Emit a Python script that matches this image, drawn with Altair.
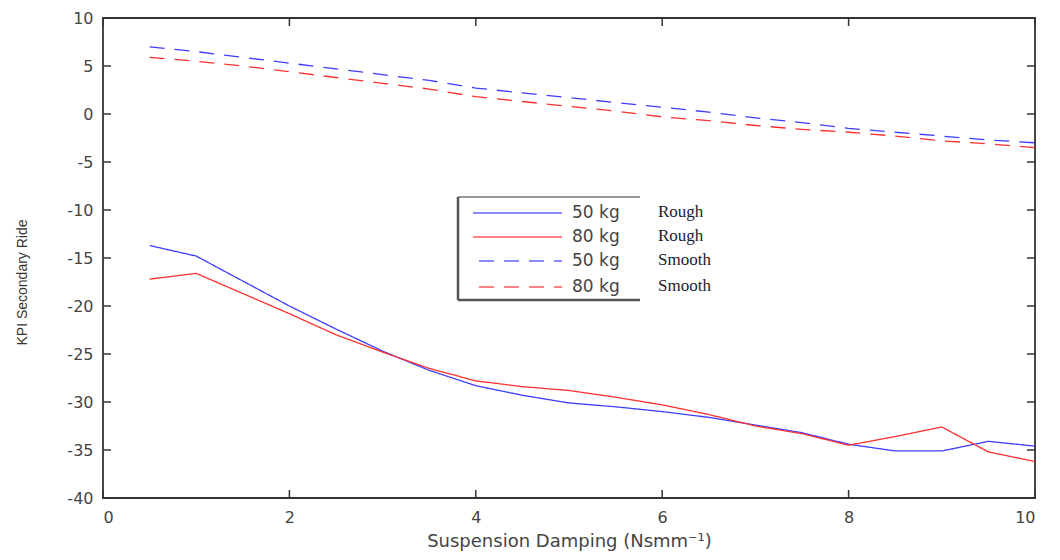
import altair as alt
import pandas as pd

# ---------------- data ----------------
x_vals = [0.5, 1.0, 1.5, 2.0, 2.5, 3.0, 3.5, 4.0, 4.5, 5.0,
          5.5, 6.0, 6.5, 7.0, 7.5, 8.0, 8.5, 9.0, 9.5, 10.0]
rough_50 = [-13.7, -14.8, -17.4, -20.0, -22.4, -24.7, -26.7, -28.3, -29.3, -30.1,
            -30.5, -31.0, -31.6, -32.4, -33.2, -34.4, -35.1, -35.1, -34.1, -34.6]
rough_80 = [-17.2, -16.6, -18.7, -20.8, -23.0, -24.8, -26.5, -27.8, -28.4, -28.8,
            -29.5, -30.3, -31.3, -32.5, -33.3, -34.5, -33.6, -32.6, -35.2, -36.2]
smooth_50 = [7.0, 6.5, 5.9, 5.3, 4.7, 4.1, 3.5, 2.7, 2.2, 1.7,
             1.2, 0.7, 0.2, -0.4, -0.9, -1.5, -1.9, -2.3, -2.7, -3.0]
smooth_80 = [5.9, 5.5, 5.0, 4.4, 3.8, 3.2, 2.6, 1.8, 1.3, 0.8,
             0.3, -0.3, -0.7, -1.2, -1.6, -1.9, -2.3, -2.8, -3.1, -3.5]

series_keys = ["50 kg Rough", "80 kg Rough", "50 kg Smooth", "80 kg Smooth"]
legend_mass = ["50 kg", "80 kg", "50 kg", "80 kg"]
legend_road = ["Rough", "Rough", "Smooth", "Smooth"]
series_colors = ["#3d3dff", "#ff3030", "#3d3dff", "#ff3030"]
series_dash = [[1, 0], [1, 0], [15, 10], [15, 10]]

x_ticks = [0, 2, 4, 6, 8, 10]
y_ticks = [-40, -35, -30, -25, -20, -15, -10, -5, 0, 5, 10]

x_title = "Suspension Damping (Nsmm\u207b\u00b9)"
y_title = "KPI Secondary Ride"

# ---------------- layout ----------------
W, H = 932, 480
TICK = 8
SANS = "DejaVu Sans"
SERIF = "Liberation Serif"
AXIS_COL = "#333333"
TEXT_COL = "#444444"

rows = []
for key, vals in zip(series_keys, [rough_50, rough_80, smooth_50, smooth_80]):
    for xv, yv in zip(x_vals, vals):
        rows.append({"x": xv, "y": yv, "series": key})
df = pd.DataFrame(rows)

x_scale = alt.Scale(domain=[0, 10], nice=False, zero=False)
y_scale = alt.Scale(domain=[-40, 10], nice=False, zero=False)

x_axis = alt.Axis(values=x_ticks, grid=False, domain=False, ticks=False,
                  labelExpr="'' + datum.value",
                  labelFont=SANS, labelFontSize=16, labelColor=TEXT_COL,
                  labelPadding=11, title=x_title, titleFont=SANS,
                  titleFontSize=18, titleFontWeight="normal", titleColor=TEXT_COL,
                  titleY=48, titleBaseline="alphabetic")
y_axis = alt.Axis(values=y_ticks, grid=False, domain=False, ticks=False,
                  labelExpr="'' + datum.value",
                  labelFont=SANS, labelFontSize=16, labelColor=TEXT_COL,
                  labelPadding=10, title=y_title, titleFont="Liberation Sans",
                  titleFontSize=14, titleFontWeight="normal", titleColor=AXIS_COL,
                  titleX=-81, titleY=264, titleBaseline="middle", titleAngle=-90)


def X(field="x"):
    return alt.X(field, type="quantitative", scale=x_scale, axis=x_axis)


def Y(field="y"):
    return alt.Y(field, type="quantitative", scale=y_scale, axis=y_axis)


lines = alt.Chart(df).mark_line(strokeWidth=1.3, clip=True).encode(
    x=X(), y=Y(),
    color=alt.Color("series:N", scale=alt.Scale(domain=series_keys, range=series_colors), legend=None),
    strokeDash=alt.StrokeDash("series:N", scale=alt.Scale(domain=series_keys, range=series_dash), legend=None),
    detail="series:N",
)

# inward ticks on all four sides (MATLAB style box)
xt = pd.DataFrame({"x": x_ticks})
yt = pd.DataFrame({"y": y_ticks})
tick_style = dict(color=AXIS_COL, strokeWidth=1.5)
bottom_ticks = alt.Chart(xt).mark_rule(**tick_style).encode(x=X(), y=alt.value(H), y2=alt.value(H - TICK))
top_ticks = alt.Chart(xt).mark_rule(**tick_style).encode(x=X(), y=alt.value(0), y2=alt.value(TICK))
left_ticks = alt.Chart(yt).mark_rule(**tick_style).encode(y=Y(), x=alt.value(0), x2=alt.value(TICK))
right_ticks = alt.Chart(yt).mark_rule(**tick_style).encode(y=Y(), x=alt.value(W), x2=alt.value(W - TICK))

# ---------------- manual legend ----------------
one = pd.DataFrame({"a": [0]})
LX0, LX1, LY0, LY1 = 355, 537, 179, 282
legend_layers = [
    alt.Chart(one).mark_rule(color="#333333", strokeWidth=1.2).encode(x=alt.value(LX0), x2=alt.value(LX1), y=alt.value(LY0)),
    alt.Chart(one).mark_rule(color="#555555", strokeWidth=2.5).encode(x=alt.value(LX0), x2=alt.value(LX1), y=alt.value(LY1)),
    alt.Chart(one).mark_rule(color="#555555", strokeWidth=2.5).encode(x=alt.value(LX0), y=alt.value(LY0), y2=alt.value(LY1)),
]
row_y = [195, 219, 243, 269]
for i in range(4):
    ry = row_y[i]
    x_start = 370 if series_dash[i] == [1, 0] else 376
    legend_layers.append(
        alt.Chart(one).mark_rule(color=series_colors[i], strokeWidth=1.3, strokeDash=series_dash[i], opacity=0.8)
        .encode(x=alt.value(x_start), x2=alt.value(459), y=alt.value(ry))
    )
    legend_layers.append(
        alt.Chart(one).mark_text(align="left", baseline="middle", font=SANS, fontSize=17, color=TEXT_COL)
        .encode(x=alt.value(469), y=alt.value(ry), text=alt.value(legend_mass[i]))
    )
    legend_layers.append(
        alt.Chart(one).mark_text(align="left", baseline="middle", font=SERIF, fontSize=17, color="#1c1c33")
        .encode(x=alt.value(555), y=alt.value(ry - 1), text=alt.value(legend_road[i]))
    )

chart = alt.layer(
    lines, bottom_ticks, top_ticks, left_ticks, right_ticks, *legend_layers
).properties(
    width=W, height=H,
    padding={"left": 95, "top": 10, "right": 17, "bottom": 54},
    autosize=alt.AutoSizeParams(type="none"),
    background="white",
).configure_view(
    stroke=AXIS_COL, strokeWidth=1.8
)

chart.save("out.html", embed_options={"renderer": "svg", "actions": False})
